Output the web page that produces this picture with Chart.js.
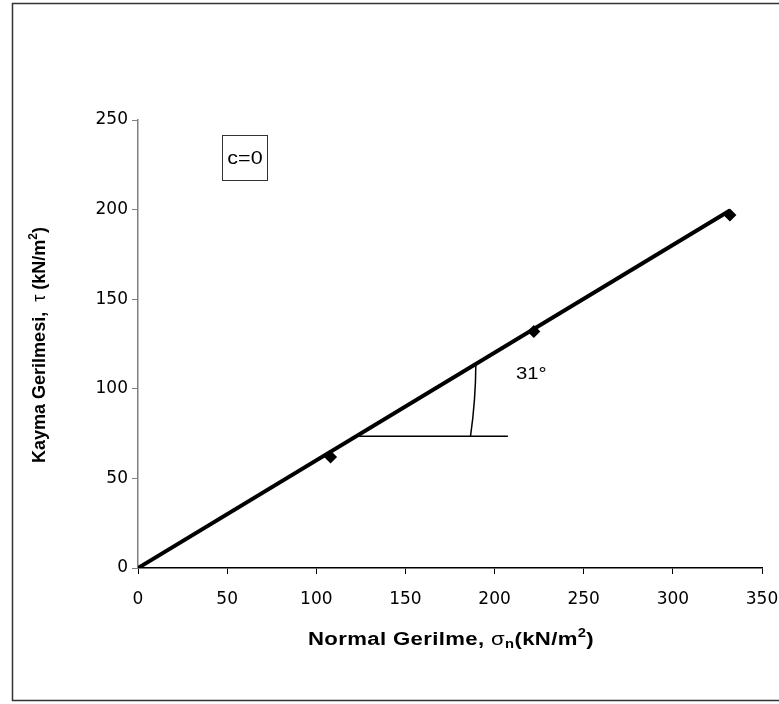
<!DOCTYPE html>
<html>
<head>
<meta charset="utf-8">
<script src="https://cdn.jsdelivr.net/npm/chart.js@4"></script>
<style>
  html, body { margin: 0; padding: 0; background: #fff; }
  #wrap { position: relative; width: 779px; height: 704px; }
</style>
</head>
<body>
<div id="wrap"><canvas id="c" width="779" height="704"></canvas></div>
<script>
// Direct shear test results
const normalStress = [108, 222, 332];   // σn, kN/m²
const shearStress  = [62, 132, 197];    // τ, kN/m²
const frictionAngle = 31;               // φ, degrees
const cohesion = 0;                     // c
const xTicks = [0, 50, 100, 150, 200, 250, 300, 350];
const yTicks = [0, 50, 100, 150, 200, 250];

const FONT = "'Liberation Sans', Arial, sans-serif";
const TICK_FONT = "'DejaVu Sans', 'Liberation Sans', sans-serif";
const WIDE = 1.23;   // horizontal stretch of the annotation text
const tanPhi = Math.tan(frictionAngle * Math.PI / 180);

// Mohr-Coulomb envelope: τ = c + σ tanφ, drawn up to the last test
const sigmaEnd = normalStress[normalStress.length - 1];
const envelope = [
  { x: 0, y: cohesion },
  { x: sigmaEnd, y: cohesion + sigmaEnd * tanPhi }
];
const tests = normalStress.map((s, i) => ({ x: s, y: shearStress[i] }));

// angle marker (data units)
const markerTau = 73.5;
const markerFrom = (markerTau - cohesion) / tanPhi;
const markerTo = 207.5;
const arcBottomX = 186.5;
const arcTopX = 189.5;

function wideText(ctx, text, x, y, font, align) {
  ctx.save();
  ctx.font = font;
  ctx.textBaseline = 'middle';
  ctx.textAlign = 'left';
  const w = ctx.measureText(text).width * WIDE;
  const x0 = align === 'center' ? x - w / 2 : x;
  ctx.translate(x0, y);
  ctx.scale(WIDE, 1);
  ctx.fillText(text, 0, 0);
  ctx.restore();
}

function drawRich(ctx, parts, cx, cy, rot, stretch, spacing) {
  ctx.save();
  ctx.translate(cx, cy);
  ctx.scale(stretch, 1);
  ctx.rotate(rot);
  ctx.textBaseline = 'middle';
  ctx.textAlign = 'left';
  ctx.fillStyle = '#000';
  ctx.letterSpacing = spacing + 'px';
  let w = 0;
  parts.forEach(p => { ctx.font = p.f; p.w = ctx.measureText(p.t).width; w += p.w; });
  let x = -w / 2;
  parts.forEach(p => { ctx.font = p.f; ctx.fillText(p.t, x, p.dy || 0); x += p.w; });
  ctx.restore();
}

const extras = {
  id: 'extras',
  beforeDraw(chart) {
    const ctx = chart.ctx;
    ctx.save();
    ctx.fillStyle = '#fff';
    ctx.fillRect(0, 0, chart.width, chart.height);
    ctx.restore();
  },
  afterDraw(chart) {
    const ctx = chart.ctx;
    const xs = chart.scales.x, ys = chart.scales.y;
    ctx.save();

    // outer frame
    ctx.strokeStyle = '#333';
    ctx.lineWidth = 1.5;
    ctx.strokeRect(12.5, 3.5, 772, 697);

    // angle marker: horizontal leg and arc
    ctx.strokeStyle = '#000';
    ctx.lineWidth = 1.5;
    const hy = ys.getPixelForValue(markerTau);
    ctx.beginPath();
    ctx.moveTo(xs.getPixelForValue(markerFrom), hy);
    ctx.lineTo(xs.getPixelForValue(markerTo), hy);
    ctx.stroke();
    const bx = xs.getPixelForValue(arcBottomX);
    const tx = xs.getPixelForValue(arcTopX);
    const ty = ys.getPixelForValue(cohesion + arcTopX * tanPhi);
    ctx.beginPath();
    ctx.moveTo(bx, hy);
    ctx.quadraticCurveTo((bx + tx) / 2 + 2.5, (hy + ty) / 2, tx, ty);
    ctx.stroke();

    ctx.fillStyle = '#000';
    wideText(ctx, frictionAngle + '°', 516, 374, '16.5px ' + FONT, 'left');

    // cohesion box
    ctx.strokeStyle = '#333';
    ctx.lineWidth = 1;
    ctx.strokeRect(222.5, 135.5, 45, 45);
    wideText(ctx, 'c=' + cohesion, 245, 159, '17.5px ' + FONT, 'center');

    // axis titles
    drawRich(ctx, [
      { t: 'Normal Gerilme, ', f: 'bold 18px ' + FONT },
      { t: 'σ', f: '18px ' + FONT },
      { t: 'n', f: 'bold 12px ' + FONT, dy: 5 },
      { t: '(kN/m', f: 'bold 18px ' + FONT },
      { t: '2', f: 'bold 12px ' + FONT, dy: -6 },
      { t: ')', f: 'bold 18px ' + FONT }
    ], 451, 640, 0, WIDE, 0.3);
    drawRich(ctx, [
      { t: 'Kayma Gerilmesi,  ', f: 'bold 18px ' + FONT },
      { t: 'τ', f: '18px ' + FONT },
      { t: ' (kN/m', f: 'bold 18px ' + FONT },
      { t: '2', f: 'bold 12px ' + FONT, dy: -6 },
      { t: ')', f: 'bold 18px ' + FONT }
    ], 40, 345, -Math.PI / 2, 1, 0);
    ctx.restore();
  }
};

new Chart(document.getElementById('c'), {
  type: 'scatter',
  data: {
    datasets: [
      {
        data: tests,
        pointStyle: 'rectRot',
        pointRadius: 6.5,
        pointHoverRadius: 6.5,
        backgroundColor: '#000',
        borderColor: '#000',
        borderWidth: 0,
        showLine: false,
        order: 0
      },
      {
        type: 'line',
        data: envelope,
        borderColor: '#000',
        borderWidth: 4,
        pointRadius: 0,
        fill: false,
        tension: 0,
        order: 1
      }
    ]
  },
  options: {
    responsive: false,
    animation: false,
    events: [],
    layout: { padding: { left: 0, top: 120, right: 17, bottom: 0 } },
    plugins: { legend: { display: false }, tooltip: { enabled: false } },
    scales: {
      x: {
        type: 'linear', min: 0, max: 350,
        afterBuildTicks: s => { s.ticks = xTicks.map(v => ({ value: v })); },
        afterFit: s => { s.height = 136; s.paddingLeft = 0; s.paddingRight = 0; },
        ticks: { color: '#000', font: { family: TICK_FONT, size: 17 }, padding: 15, maxRotation: 0 },
        grid: { display: true, drawOnChartArea: false, drawTicks: true, tickLength: 6, color: '#000', lineWidth: 1 },
        border: { display: true, color: '#000', width: 1.5 }
      },
      y: {
        type: 'linear', min: 0, max: 250,
        afterBuildTicks: s => { s.ticks = yTicks.map(v => ({ value: v })); },
        afterFit: s => { s.width = 138; s.paddingTop = 0; s.paddingBottom = 0; },
        ticks: { color: '#000', font: { family: TICK_FONT, size: 17 }, padding: 4 },
        grid: { display: true, drawOnChartArea: false, drawTicks: true, tickLength: 6, color: '#808080', lineWidth: 1 },
        border: { display: true, color: '#808080', width: 1.5 }
      }
    }
  },
  plugins: [extras]
});
</script>
</body>
</html>
